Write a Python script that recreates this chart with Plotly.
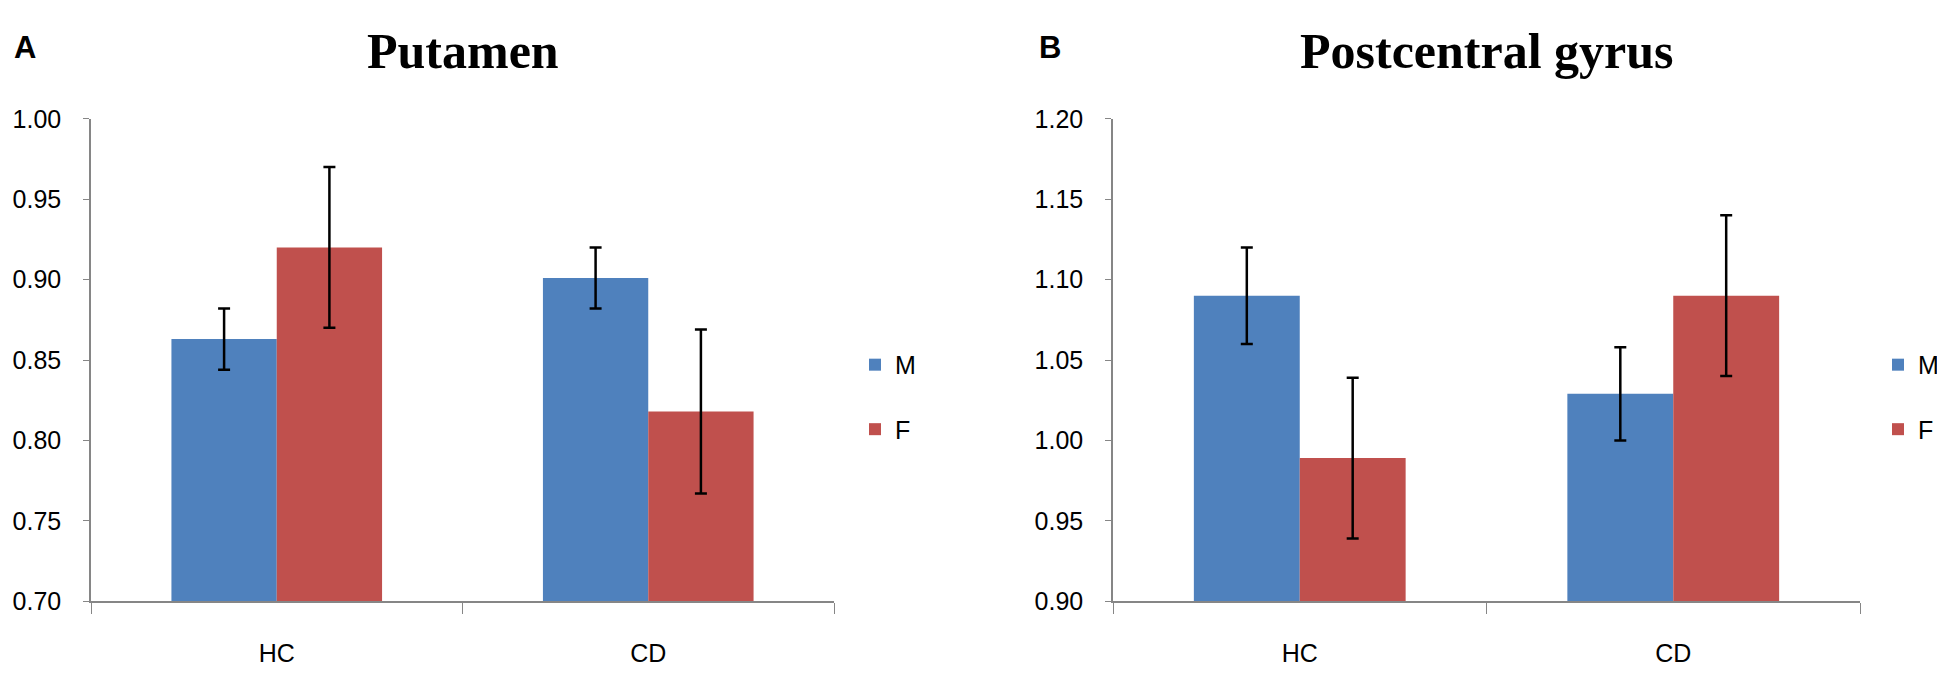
import plotly.graph_objects as go
from plotly.subplots import make_subplots

groups = ["HC", "CD"]

putamen_m = [0.863, 0.901]
putamen_m_err = [0.019, 0.019]
putamen_f = [0.920, 0.818]
putamen_f_err = [0.050, 0.051]

postcentral_m = [1.090, 1.029]
postcentral_m_err = [0.030, 0.029]
postcentral_f = [0.989, 1.090]
postcentral_f_err = [0.050, 0.050]

panel_titles = ["Putamen", "Postcentral gyrus"]
panel_letters = ["A", "B"]
y_ranges = [[0.70, 1.00], [0.90, 1.20]]

BLUE = "#4F81BD"
RED = "#C0504D"
AXIS_GREY = "#868686"
TICK_FONT = dict(family="Liberation Sans", size=25, color="black")

W, H = 1945, 681

fig = make_subplots(rows=1, cols=2)


def add_panel(col, m, m_err, f, f_err, legend_name):
    fig.add_trace(
        go.Bar(
            x=groups, y=m, name="M", marker_color=BLUE, marker_line_width=0,
            error_y=dict(type="data", array=m_err, color="black", thickness=2.5, width=6),
            legend=legend_name, legendgroup=legend_name + "M",
        ),
        row=1, col=col,
    )
    fig.add_trace(
        go.Bar(
            x=groups, y=f, name="F", marker_color=RED, marker_line_width=0,
            error_y=dict(type="data", array=f_err, color="black", thickness=2.5, width=6),
            legend=legend_name, legendgroup=legend_name + "F",
        ),
        row=1, col=col,
    )


add_panel(1, putamen_m, putamen_m_err, putamen_f, putamen_f_err, "legend")
add_panel(2, postcentral_m, postcentral_m_err, postcentral_f, postcentral_f_err, "legend2")

# plot areas in pixels
x_doms = [[83 / W, 826 / W], [1105 / W, 1852 / W]]
y_dom = [1 - 604 / H, 1 - 101 / H]

for i in range(2):
    fig.update_xaxes(
        domain=x_doms[i], showline=True, linecolor=AXIS_GREY, linewidth=1.5,
        ticks="outside", tickson="boundaries", ticklen=11, tickcolor=AXIS_GREY,
        tickfont=TICK_FONT, ticklabelstandoff=29, showgrid=False,
        row=1, col=i + 1,
    )
    fig.update_yaxes(
        domain=y_dom, range=y_ranges[i], dtick=0.05, tickformat=".2f",
        showline=True, linecolor=AXIS_GREY, linewidth=1.5,
        ticks="outside", ticklen=6, tickcolor=AXIS_GREY, tickfont=TICK_FONT,
        ticklabelstandoff=17, showgrid=False, zeroline=False,
        row=1, col=i + 1,
    )
    mid = (x_doms[i][0] + x_doms[i][1]) / 2
    fig.add_annotation(
        text=panel_titles[i], x=mid, y=1 - 30 / H, xref="paper", yref="paper",
        xanchor="center", yanchor="middle", showarrow=False,
        font=dict(family="Liberation Serif", size=50, color="black", weight="bold"),
    )

fig.add_annotation(
    text=panel_letters[0], x=4 / W, y=1 - 6 / H, xref="paper", yref="paper",
    xanchor="left", yanchor="top", showarrow=False,
    font=dict(family="Liberation Sans", size=31, color="black", weight="bold"),
)
fig.add_annotation(
    text=panel_letters[1], x=1029 / W, y=1 - 6 / H, xref="paper", yref="paper",
    xanchor="left", yanchor="top", showarrow=False,
    font=dict(family="Liberation Sans", size=31, color="black", weight="bold"),
)

legend_style = dict(
    yanchor="middle", xanchor="left", font=TICK_FONT, tracegroupgap=29,
    bgcolor="rgba(0,0,0,0)", itemwidth=30,
)

fig.update_layout(
    width=W, height=H,
    margin=dict(l=0, r=0, t=0, b=0),
    paper_bgcolor="white", plot_bgcolor="white",
    barmode="group", bargap=0.433, bargroupgap=0,
    legend=dict(x=847 / W, y=1 - 391 / H, **legend_style),
    legend2=dict(x=1870 / W, y=1 - 391 / H, **legend_style),
)

fig.write_html("out.html")
